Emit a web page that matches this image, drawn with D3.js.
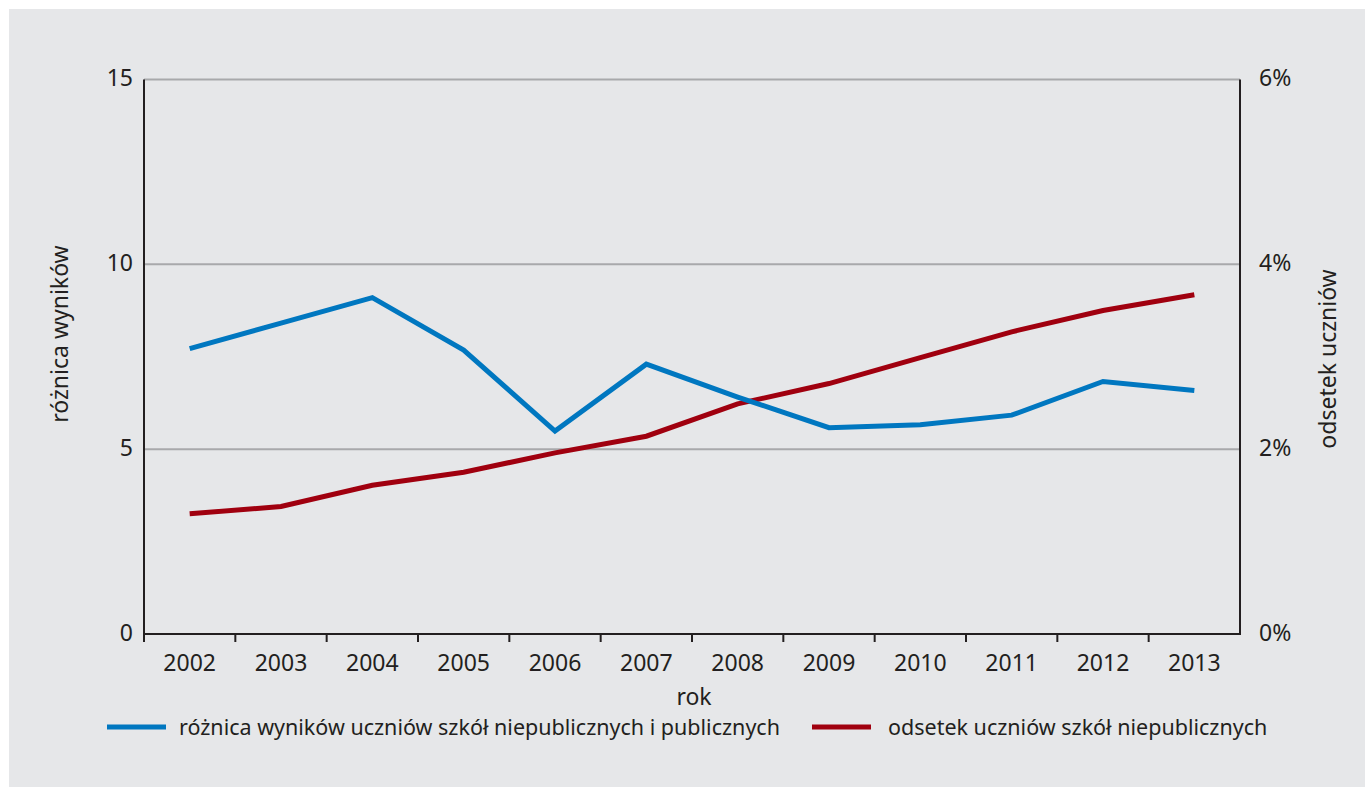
<!DOCTYPE html>
<html>
<head>
<meta charset="utf-8">
<script src="https://cdn.jsdelivr.net/npm/d3@7"></script>
<style>
  body { margin: 0; padding: 0; background: #fff; }
  svg { display: block; }
  text { font-family: "Noto Sans", sans-serif; fill: #231f20; }
</style>
</head>
<body>
<script>
// dane
var years = ["2002","2003","2004","2005","2006","2007","2008","2009","2010","2011","2012","2013"];
var roznica = [7.72, 8.41, 9.10, 7.68, 5.49, 7.30, 6.41, 5.58, 5.66, 5.92, 6.83, 6.59];
var odsetek = [0.0130, 0.0138, 0.0161, 0.0175, 0.0196, 0.0214, 0.0249, 0.0271, 0.0299, 0.0327, 0.0350, 0.0367];
var leftTicks = [0, 5, 10, 15];
var rightTicks = [0, 0.02, 0.04, 0.06];
var seriesNames = ["różnica wyników uczniów szkół niepublicznych i publicznych", "odsetek uczniów szkół niepublicznych"];
var seriesColors = ["#0077c0", "#a0000f"];

var width = 1365;
var height = 787;

var svg = d3.select("body")
    .append("svg")
    .attr("width", width)
    .attr("height", height);

// tlo
svg.append("rect")
    .attr("x", 9)
    .attr("y", 9)
    .attr("width", width - 9)
    .attr("height", height - 9)
    .attr("fill", "#e6e7e9");

var x = d3.scaleBand().domain(years).range([144, 1240]);
var yL = d3.scaleLinear().domain([0, 15]).range([634, 79.5]);
var yR = d3.scaleLinear().domain([0, 0.06]).range([634, 79.5]);

// siatka
svg.selectAll("line.grid")
    .data(leftTicks.filter(function(d){ return d > 0; }))
    .enter()
    .append("line")
    .attr("class", "grid")
    .attr("x1", 144)
    .attr("x2", 1240)
    .attr("y1", function(d){ return yL(d); })
    .attr("y2", function(d){ return yL(d); })
    .style("stroke", "#a8a9ab")
    .style("stroke-width", 2);

// osie
svg.append("line")
    .attr("x1", 144).attr("x2", 144)
    .attr("y1", yL(15)).attr("y2", yL(0))
    .style("stroke", "#231f20").style("stroke-width", 2);
svg.append("line")
    .attr("x1", 1240).attr("x2", 1240)
    .attr("y1", yR(0.06)).attr("y2", yR(0) + 1)
    .style("stroke", "#231f20").style("stroke-width", 2);
svg.append("line")
    .attr("x1", 143).attr("x2", 1241)
    .attr("y1", yL(0)).attr("y2", yL(0))
    .style("stroke", "#231f20").style("stroke-width", 2);

// znaczniki osi x na granicach lat
var edges = years.map(function(d){ return x(d); });
svg.selectAll("line.tick")
    .data(edges)
    .enter()
    .append("line")
    .attr("class", "tick")
    .attr("x1", function(d){ return d; })
    .attr("x2", function(d){ return d; })
    .attr("y1", yL(0))
    .attr("y2", yL(0) + 8)
    .style("stroke", "#231f20")
    .style("stroke-width", 2);

svg.selectAll("text.year")
    .data(years)
    .enter()
    .append("text")
    .attr("class", "year")
    .attr("x", function(d){ return x(d) + x.bandwidth() / 2; })
    .attr("y", 671)
    .attr("text-anchor", "middle")
    .attr("font-size", 23)
    .text(function(d){ return d; });

svg.selectAll("text.lt")
    .data(leftTicks)
    .enter()
    .append("text")
    .attr("class", "lt")
    .attr("x", 133)
    .attr("y", function(d){ return yL(d); })
    .attr("dy", "0.3em")
    .attr("text-anchor", "end")
    .attr("font-size", 23)
    .text(function(d){ return d; });

svg.selectAll("text.rt")
    .data(rightTicks)
    .enter()
    .append("text")
    .attr("class", "rt")
    .attr("x", 1259)
    .attr("y", function(d){ return yR(d); })
    .attr("dy", "0.3em")
    .attr("text-anchor", "start")
    .attr("font-size", 23)
    .text(function(d){ return d3.format(".0%")(d); });

// tytuly osi
svg.append("text")
    .attr("transform", "translate(68,334) rotate(-90)")
    .attr("text-anchor", "middle")
    .attr("font-size", 23)
    .text("różnica wyników");
svg.append("text")
    .attr("transform", "translate(1336,359) rotate(-90)")
    .attr("text-anchor", "middle")
    .attr("font-size", 23)
    .text("odsetek uczniów");
svg.append("text")
    .attr("x", 694)
    .attr("y", 705)
    .attr("text-anchor", "middle")
    .attr("font-size", 23)
    .text("rok");

// linie
var lineL = d3.line()
    .x(function(d, i){ return x(years[i]) + x.bandwidth() / 2; })
    .y(function(d){ return yL(d); });
var lineR = d3.line()
    .x(function(d, i){ return x(years[i]) + x.bandwidth() / 2; })
    .y(function(d){ return yR(d); });

svg.append("path")
    .datum(odsetek)
    .attr("d", lineR)
    .attr("fill", "none")
    .style("stroke", seriesColors[1])
    .style("stroke-width", 5);
svg.append("path")
    .datum(roznica)
    .attr("d", lineL)
    .attr("fill", "none")
    .style("stroke", seriesColors[0])
    .style("stroke-width", 5);

// legenda
var legendX = [107, 812];
var legend = svg.selectAll("g.legend")
    .data(seriesNames)
    .enter()
    .append("g")
    .attr("class", "legend")
    .attr("transform", function(_, i){ return "translate(" + legendX[i] + ",727)"; });
legend.append("line")
    .attr("x1", 0).attr("x2", 59)
    .attr("y1", 0).attr("y2", 0)
    .style("stroke", function(_, i){ return seriesColors[i]; })
    .style("stroke-width", 5);
legend.append("text")
    .attr("x", function(_, i){ return i === 0 ? 72 : 76; })
    .attr("y", 8)
    .attr("font-size", 21.5)
    .text(function(d){ return d; });
</script>
</body>
</html>
